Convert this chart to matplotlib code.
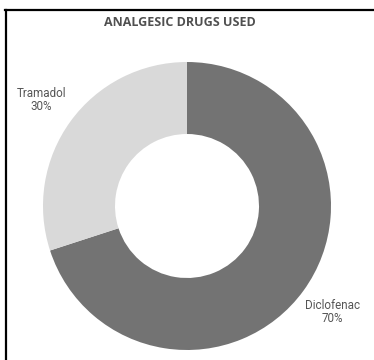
import matplotlib
matplotlib.use("Agg")
import matplotlib.pyplot as plt
from matplotlib.lines import Line2D

drogas = ["Diclofenac", "Tramadol"]
percentuais = [70, 30]
cores = ["#737373", "#d9d9d9"]

W, H = 374, 360
fig = plt.figure(figsize=(W / 100, H / 100), dpi=100)

# borda preta (topo e esquerda) como no recorte original
fig.add_artist(Line2D([5 / W, 1], [1 - 10 / H, 1 - 10 / H], color="black", linewidth=1.6))
fig.add_artist(Line2D([5.5 / W, 5.5 / W], [0, 1 - 10 / H], color="black", linewidth=1.6))

cx, cy, r = 187, 206, 144
ax = fig.add_axes([(cx - r) / W, (H - cy - r) / H, 2 * r / W, 2 * r / H])

rotulos = [f"{d}\n{p}%" for d, p in zip(drogas, percentuais)]
wedges, textos = ax.pie(
    percentuais,
    labels=rotulos,
    colors=cores,
    startangle=90,
    counterclock=False,
    labeldistance=1.25,
    wedgeprops=dict(width=0.5, linewidth=0),
    textprops=dict(fontsize=8.4, color="#555555", family="Roboto"),
)
for t in textos:
    t.set_ha("center")
    t.set_va("center")
    t.set_linespacing(1.0)

ax.set_xlim(-1, 1)
ax.set_ylim(-1, 1)
ax.set_aspect("equal")
ax.axis("off")

fig.text(
    180 / W,
    1 - 22 / H,
    "ANALGESIC DRUGS USED",
    ha="center",
    va="center",
    fontsize=9.0,
    fontweight="bold",
    color="#505050",
    family="Open Sans",
)

fig.savefig("out.png", dpi=100)
